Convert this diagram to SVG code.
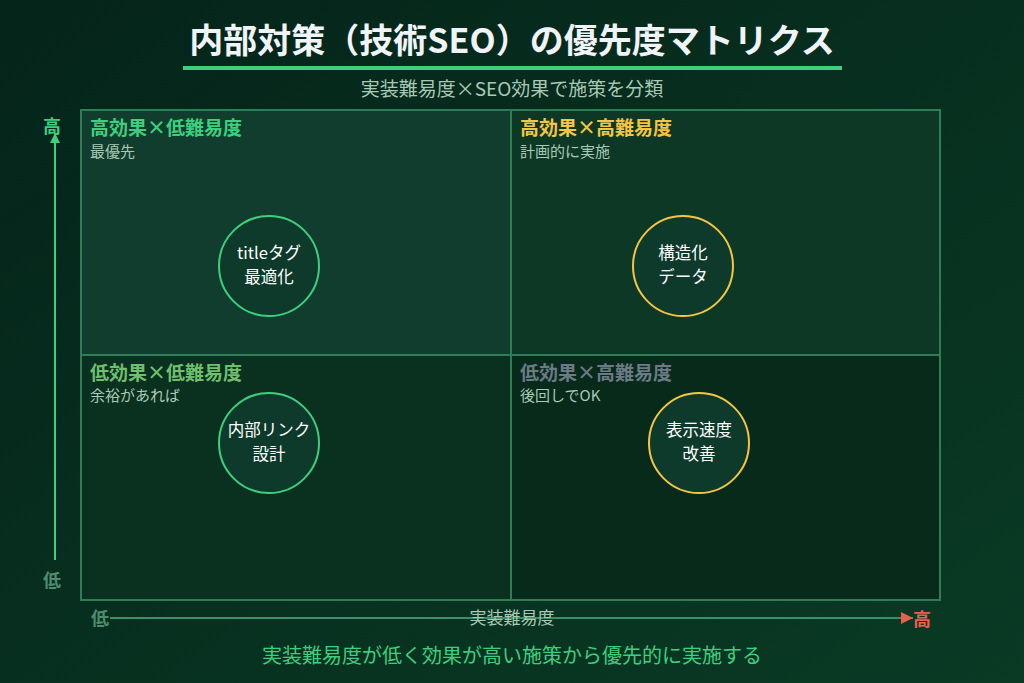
<svg xmlns="http://www.w3.org/2000/svg" width="1024" height="683" viewBox="0 0 1024 683">
<defs>
<linearGradient id="bg" x1="0" y1="0" x2="1" y2="1">
<stop offset="0" stop-color="#05241a"/>
<stop offset="1" stop-color="#093a24"/>
</linearGradient>
<marker id="arrG" viewBox="0 0 10 10" refX="10" refY="5" markerWidth="10" markerHeight="13" markerUnits="userSpaceOnUse" orient="auto">
<path d="M0,0 L10,5 L0,10 Z" fill="#3ecf7e"/>
</marker>
<marker id="arrR" viewBox="0 0 10 10" refX="10" refY="5" markerWidth="13" markerHeight="12" markerUnits="userSpaceOnUse" orient="auto">
<path d="M0,0 L10,5 L0,10 Z" fill="#e8604c"/>
</marker>
</defs>
<style>
text{font-family:"Noto Sans CJK JP","Noto Sans",sans-serif}
.title{font-size:34px;font-weight:bold;fill:#f0f4f8}
.sub{font-size:19px;fill:#a9c9b5}
.qh{font-size:19px;font-weight:bold}
.qs{font-size:15px;fill:#a9c9b5}
.cell{stroke:#2e7d57;stroke-width:2}
.node circle{fill:#0e3a2b;stroke-width:2}
.node text{font-size:16.5px;fill:#ffffff;text-anchor:middle}
.g{stroke:#3ecf7e}
.y{stroke:#f5c542}
.ax{font-size:18px;font-weight:bold}
</style>
<rect width="1024" height="683" fill="url(#bg)"/>
<text class="title" x="512" y="53" text-anchor="middle">内部対策（技術SEO）の優先度マトリクス</text>
<rect x="183" y="66" width="659" height="4" fill="#3ecf7e"/>
<text class="sub" x="512" y="96" text-anchor="middle">実装難易度×SEO効果で施策を分類</text>

<g id="quadrants">
<rect class="cell" x="81" y="110" width="430" height="245" fill="#113d2e"/>
<rect class="cell" x="511" y="110" width="429" height="245" fill="#0c3825"/>
<rect class="cell" x="81" y="355" width="430" height="245" fill="#0a301f"/>
<rect class="cell" x="511" y="355" width="429" height="245" fill="#072a1b"/>
<text class="qh" x="90" y="135" fill="#3ecf7e">高効果×低難易度</text>
<text class="qs" x="90" y="157">最優先</text>
<text class="qh" x="520" y="135" fill="#f5c542">高効果×高難易度</text>
<text class="qs" x="520" y="157">計画的に実施</text>
<text class="qh" x="90" y="380" fill="#6fbf6f">低効果×低難易度</text>
<text class="qs" x="90" y="401">余裕があれば</text>
<text class="qh" x="520" y="380" fill="#6c7a86">低効果×高難易度</text>
<text class="qs" x="520" y="401">後回しでOK</text>
</g>

<g id="n1" class="node">
<circle class="g" cx="269" cy="266" r="50"/>
<text x="269" y="259">titleタグ</text>
<text x="269" y="283">最適化</text>
</g>
<g id="n2" class="node">
<circle class="y" cx="683" cy="266" r="50"/>
<text x="683" y="259">構造化</text>
<text x="683" y="283">データ</text>
</g>
<g id="n3" class="node">
<circle class="g" cx="269" cy="443" r="50"/>
<text x="269" y="436">内部リンク</text>
<text x="269" y="460">設計</text>
</g>
<g id="n4" class="node">
<circle class="y" cx="699" cy="443" r="50"/>
<text x="699" y="436">表示速度</text>
<text x="699" y="460">改善</text>
</g>

<g id="axes">
<line x1="55" y1="560" x2="55" y2="133" stroke="#3ecf7e" stroke-width="2" marker-end="url(#arrG)"/>
<text class="ax" x="52" y="133" text-anchor="middle" fill="#3ecf7e">高</text>
<text class="ax" x="52" y="587" text-anchor="middle" fill="#4d8c6c">低</text>
<line x1="110" y1="618" x2="913" y2="618" stroke="#3d8f66" stroke-width="2" marker-end="url(#arrR)"/>
<text class="ax" x="100" y="625" text-anchor="middle" fill="#4d8c6c">低</text>
<text class="ax" x="922" y="626" text-anchor="middle" fill="#e8604c">高</text>
<text x="512" y="624" text-anchor="middle" font-size="17" fill="#a9c9b5">実装難易度</text>
</g>

<text x="512" y="663" text-anchor="middle" font-size="20" fill="#3ecf7e">実装難易度が低く効果が高い施策から優先的に実施する</text>
</svg>
